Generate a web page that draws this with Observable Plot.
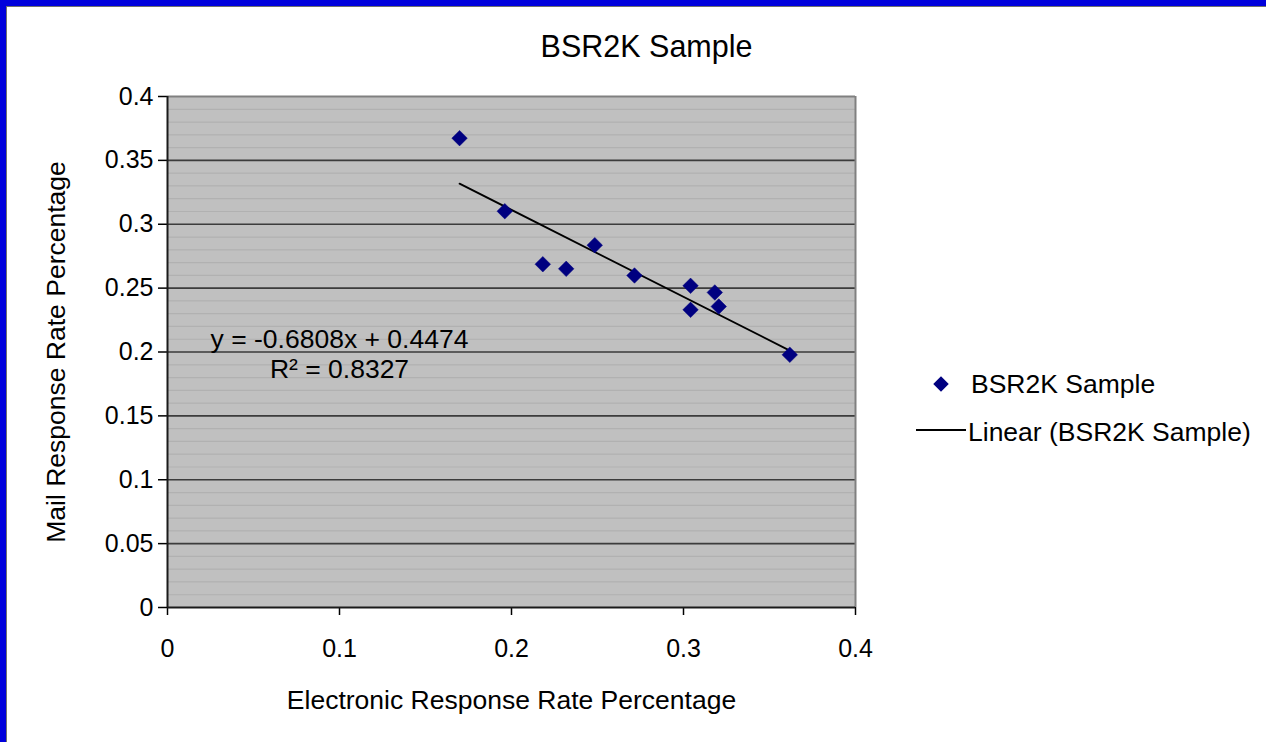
<!DOCTYPE html>
<html>
<head>
<meta charset="utf-8">
<script src="https://cdn.jsdelivr.net/npm/d3@7"></script>
<script src="https://cdn.jsdelivr.net/npm/@observablehq/plot@0.6"></script>
<style>
  html, body { margin: 0; padding: 0; background: #fff; }
  #wrap { position: relative; width: 1266px; height: 742px; overflow: hidden;
          font-family: "Liberation Sans", Arial, sans-serif; }
  #wrap > svg { position: absolute; left: 0; top: 0; }
  #edge { position: absolute; left: 0; top: 0; width: 1266px; height: 742px; box-sizing: border-box;
          border-left: 6px solid #0000dc; border-top: 6px solid #0000dc; pointer-events: none; }
  #edge::after { content: ""; position: absolute; left: 0; top: 0; right: 0; bottom: 0;
          border-left: 1px solid #707070; border-top: 1px solid #707070; }
</style>
</head>
<body>
<div id="wrap"><div id="edge"></div></div>
<script>
// Survey response rates per sample unit
const electronic = [0.1698, 0.1961, 0.2182, 0.2318, 0.2484, 0.2715, 0.3041, 0.3041, 0.3182, 0.3205, 0.3618];
const mail       = [0.3674, 0.3102, 0.2687, 0.2651, 0.2836, 0.2599, 0.2518, 0.2330, 0.2466, 0.2356, 0.1978];

// Linear trendline as reported on the chart
const slope = -0.6808;
const intercept = 0.4474;
const rSquared = 0.8327;
const equationAt = [0.1, 0.219];

// Axes
const xTicks = [0, 0.1, 0.2, 0.3, 0.4];
const xTickLabels = ["0", "0.1", "0.2", "0.3", "0.4"];
const yTicks = [0, 0.05, 0.1, 0.15, 0.2, 0.25, 0.3, 0.35, 0.4];
const yTickLabels = ["0", "0.05", "0.1", "0.15", "0.2", "0.25", "0.3", "0.35", "0.4"];
const yMinorTicks = d3.range(1, 40).map(i => i / 100);

const title = "BSR2K Sample";
const xTitle = "Electronic Response Rate Percentage";
const yTitle = "Mail Response Rate Percentage";
const seriesName = "BSR2K Sample";
const trendName = "Linear (BSR2K Sample)";

const points = electronic.map((x, i) => ({x, y: mail[i]}));
const xMin = d3.min(electronic), xMax = d3.max(electronic);
const trend = [xMin, xMax].map(x => ({x, y: slope * x + intercept}));

const xLabelOf = new Map(xTicks.map((t, i) => [t, xTickLabels[i]]));
const yLabelOf = new Map(yTicks.map((t, i) => [t, yTickLabels[i]]));

const font = "'Liberation Sans', Arial, sans-serif";
const markerR = 7;

const chart = Plot.plot({
  width: 1266,
  height: 742,
  marginLeft: 167,
  marginRight: 411,
  marginTop: 96,
  marginBottom: 135,
  style: { fontFamily: font, background: "transparent", color: "#000" },
  x: { domain: [0, 0.4], axis: null },
  y: { domain: [0, 0.4], axis: null },
  marks: [
    Plot.frame({ fill: "#c0c0c0", stroke: null }),
    Plot.ruleY(yMinorTicks, { stroke: "#b1b1b1", strokeWidth: 1.2 }),
    Plot.ruleY(yTicks.filter(t => t > 0 && t < 0.4), { stroke: "#3c3c3c", strokeWidth: 1.6 }),
    Plot.ruleY([0.4], { stroke: "#808080", strokeWidth: 2 }),
    Plot.ruleX([0.4], { stroke: "#808080", strokeWidth: 2, y1: 0, y2: 0.4 }),
    Plot.axisY({ ticks: yTicks, tickFormat: d => yLabelOf.get(d), tickSize: 9, tickPadding: 5,
                 fontSize: 25, label: null, strokeWidth: 1.5 }),
    Plot.axisX({ ticks: xTicks, tickFormat: d => xLabelOf.get(d), tickSize: 8, tickPadding: 24,
                 fontSize: 25, label: null, strokeWidth: 1.5 }),
    Plot.ruleX([0], { stroke: "#1a1a1a", strokeWidth: 2 }),
    Plot.ruleY([0], { stroke: "#1a1a1a", strokeWidth: 2 }),
    Plot.line(trend, { x: "x", y: "y", stroke: "#000", strokeWidth: 1.8 }),
    Plot.dot(points, { x: "x", y: "y", symbol: "diamond2", r: markerR, fill: "#000080", stroke: "#000080", strokeWidth: 0.5 }),
    Plot.text([`y = ${slope}x + ${intercept}\nR² = ${rSquared}`], {
      x: () => equationAt[0], y: () => equationAt[1], text: d => d,
      lineAnchor: "top", lineHeight: 1.1, fontSize: 26.5, fill: "#000"
    }),
    Plot.text([title], { text: d => d, frameAnchor: "top", lineAnchor: "bottom", dx: 135, dy: -40, fontSize: 30.5 }),
    Plot.text([xTitle], { text: d => d, frameAnchor: "bottom", lineAnchor: "bottom", dy: 101, fontSize: 26.5 }),
    Plot.text([yTitle], { text: d => d, frameAnchor: "left", textAnchor: "middle", lineAnchor: "middle",
                          rotate: -90, dx: -111, fontSize: 26.5 })
  ]
});

const wrap = document.getElementById("wrap");
wrap.insertBefore(chart, wrap.firstChild);

// Legend on the right of the plot area
const legend = d3.select(wrap).append("svg")
  .attr("width", 1266).attr("height", 742)
  .style("position", "absolute").style("left", 0).style("top", 0)
  .style("font-family", font);

legend.append("path")
  .attr("d", d3.symbol(d3.symbolDiamond2, Math.PI * markerR * markerR)())
  .attr("transform", "translate(941,384)")
  .attr("fill", "#000080");
legend.append("text")
  .attr("x", 971).attr("y", 393).attr("font-size", 26.5).text(seriesName);
legend.append("line")
  .attr("x1", 916).attr("x2", 966).attr("y1", 430).attr("y2", 430)
  .attr("stroke", "#000").attr("stroke-width", 1.8);
legend.append("text")
  .attr("x", 968).attr("y", 441).attr("font-size", 26.5).text(trendName);
</script>
</body>
</html>
